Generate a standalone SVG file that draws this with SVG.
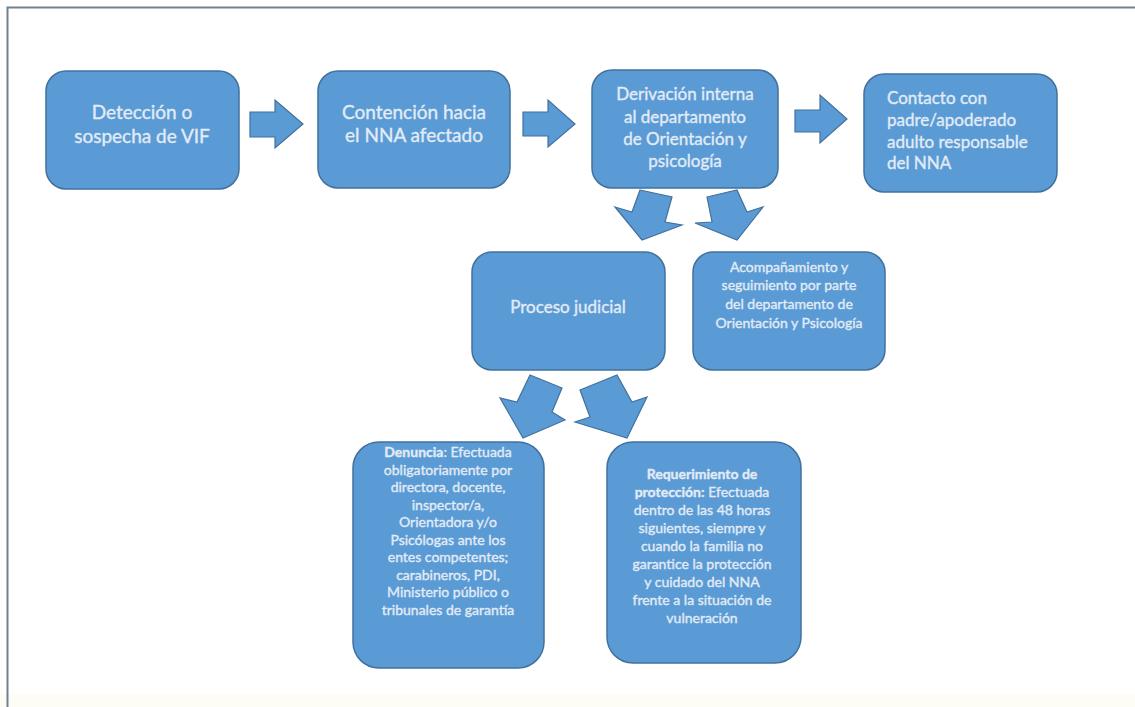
<svg xmlns="http://www.w3.org/2000/svg" width="1135" height="707" viewBox="0 0 1135 707">
<style>
.box{fill:#5b9bd5;stroke:#41719c;stroke-width:1.5}
.arr{fill:#5b9bd5;stroke:#41719c;stroke-width:1.2;stroke-linejoin:miter}
.t{font-family:Lato,"Liberation Sans",sans-serif;fill:#e2ebf6;stroke:#e2ebf6;stroke-width:0.35;text-anchor:middle}
.l{text-anchor:start}
.big{font-size:19px}
.med{font-size:17px}
.sm{font-size:14px}
</style>
<rect x="0" y="0" width="1135" height="707" fill="#ffffff"/>
<rect x="0" y="694" width="1135" height="13" fill="#fdfdf6"/>
<path d="M7.5 707 V7.5 H1135" fill="none" stroke="#6f8190" stroke-width="2"/>

<g id="n1"><rect class="box" x="46" y="71" width="193" height="118" rx="20"/>
<text class="t big" x="142" y="119">Detección o</text>
<text class="t big" x="142" y="143">sospecha de VIF</text></g>

<g id="n2"><rect class="box" x="318" y="71" width="192" height="117" rx="20"/>
<text class="t big" x="414" y="119">Contención hacia</text>
<text class="t big" x="414" y="142">el NNA afectado</text></g>

<g id="n3"><rect class="box" x="592" y="70" width="186" height="118" rx="20"/>
<text class="t med" x="685" y="100">Derivación interna</text>
<text class="t med" x="685" y="123">al departamento</text>
<text class="t med" x="685" y="145">de Orientación y</text>
<text class="t med" x="685" y="167">psicología</text></g>

<g id="n4"><rect class="box" x="864" y="74" width="193" height="118" rx="20"/>
<text class="t med l" x="887" y="104">Contacto con</text>
<text class="t med l" x="887" y="126">padre/apoderado</text>
<text class="t med l" x="887" y="148">adulto responsable</text>
<text class="t med l" x="887" y="169">del NNA</text></g>

<g id="n5"><rect class="box" x="472" y="252" width="193" height="118" rx="20"/>
<text class="t med" x="568" y="313">Proceso judicial</text></g>

<g id="n6"><rect class="box" x="693" y="252" width="192" height="118" rx="20"/>
<text class="t sm" x="789" y="272">Acompañamiento y</text>
<text class="t sm" x="789" y="290">seguimiento por parte</text>
<text class="t sm" x="789" y="309">del departamento de</text>
<text class="t sm" x="789" y="328">Orientación y Psicología</text></g>

<g id="n7"><rect class="box" x="353" y="442" width="191" height="226" rx="26"/>
<text class="t sm" x="448" y="457"><tspan font-weight="bold">Denuncia</tspan>: Efectuada</text>
<text class="t sm" x="448" y="474.5">obligatoriamente por</text>
<text class="t sm" x="448" y="492">directora, docente,</text>
<text class="t sm" x="448" y="509.5">inspector/a,</text>
<text class="t sm" x="448" y="527">Orientadora y/o</text>
<text class="t sm" x="448" y="544.5">Psicólogas ante los</text>
<text class="t sm" x="448" y="562">entes competentes;</text>
<text class="t sm" x="448" y="579.5">carabineros, PDI,</text>
<text class="t sm" x="448" y="597">Ministerio público o</text>
<text class="t sm" x="448" y="614.5">tribunales de garantía</text></g>

<g id="n8"><rect class="box" x="607" y="442" width="194" height="221" rx="26"/>
<text class="t sm" x="702" y="479" font-weight="bold">Requerimiento de</text>
<text class="t sm" x="702" y="497"><tspan font-weight="bold">protección:</tspan> Efectuada</text>
<text class="t sm" x="702" y="515">dentro de las 48 horas</text>
<text class="t sm" x="702" y="533">siguientes, siempre y</text>
<text class="t sm" x="702" y="551">cuando la familia no</text>
<text class="t sm" x="702" y="569">garantice la protección</text>
<text class="t sm" x="702" y="587">y cuidado del NNA</text>
<text class="t sm" x="702" y="605">frente a la situación de</text>
<text class="t sm" x="702" y="623">vulneración</text></g>

<g id="connectors">
<polygon class="arr" points="250,112 275,112 275,100 303,124 275,148 275,137 250,137"/>
<polygon class="arr" points="523,112 548,112 548,100 575,124 548,147 548,136 523,136"/>
<polygon class="arr" points="795,110 820,110 820,95 847,119 820,143 820,132 795,132"/>
<polygon class="arr" points="640,190 672,197 665,222 682,225 642,240 615,207 632,212"/>
<polygon class="arr" points="707,197 737,190 747,212 763,207 737,240 695,223 712,222"/>
<polygon class="arr" points="530,375 562,388 552,412 565,420 523,438 500,398 517,402"/>
<polygon class="arr" points="580,390 617,375 632,402 647,397 627,438 575,422 590,417"/>
</g>
</svg>
